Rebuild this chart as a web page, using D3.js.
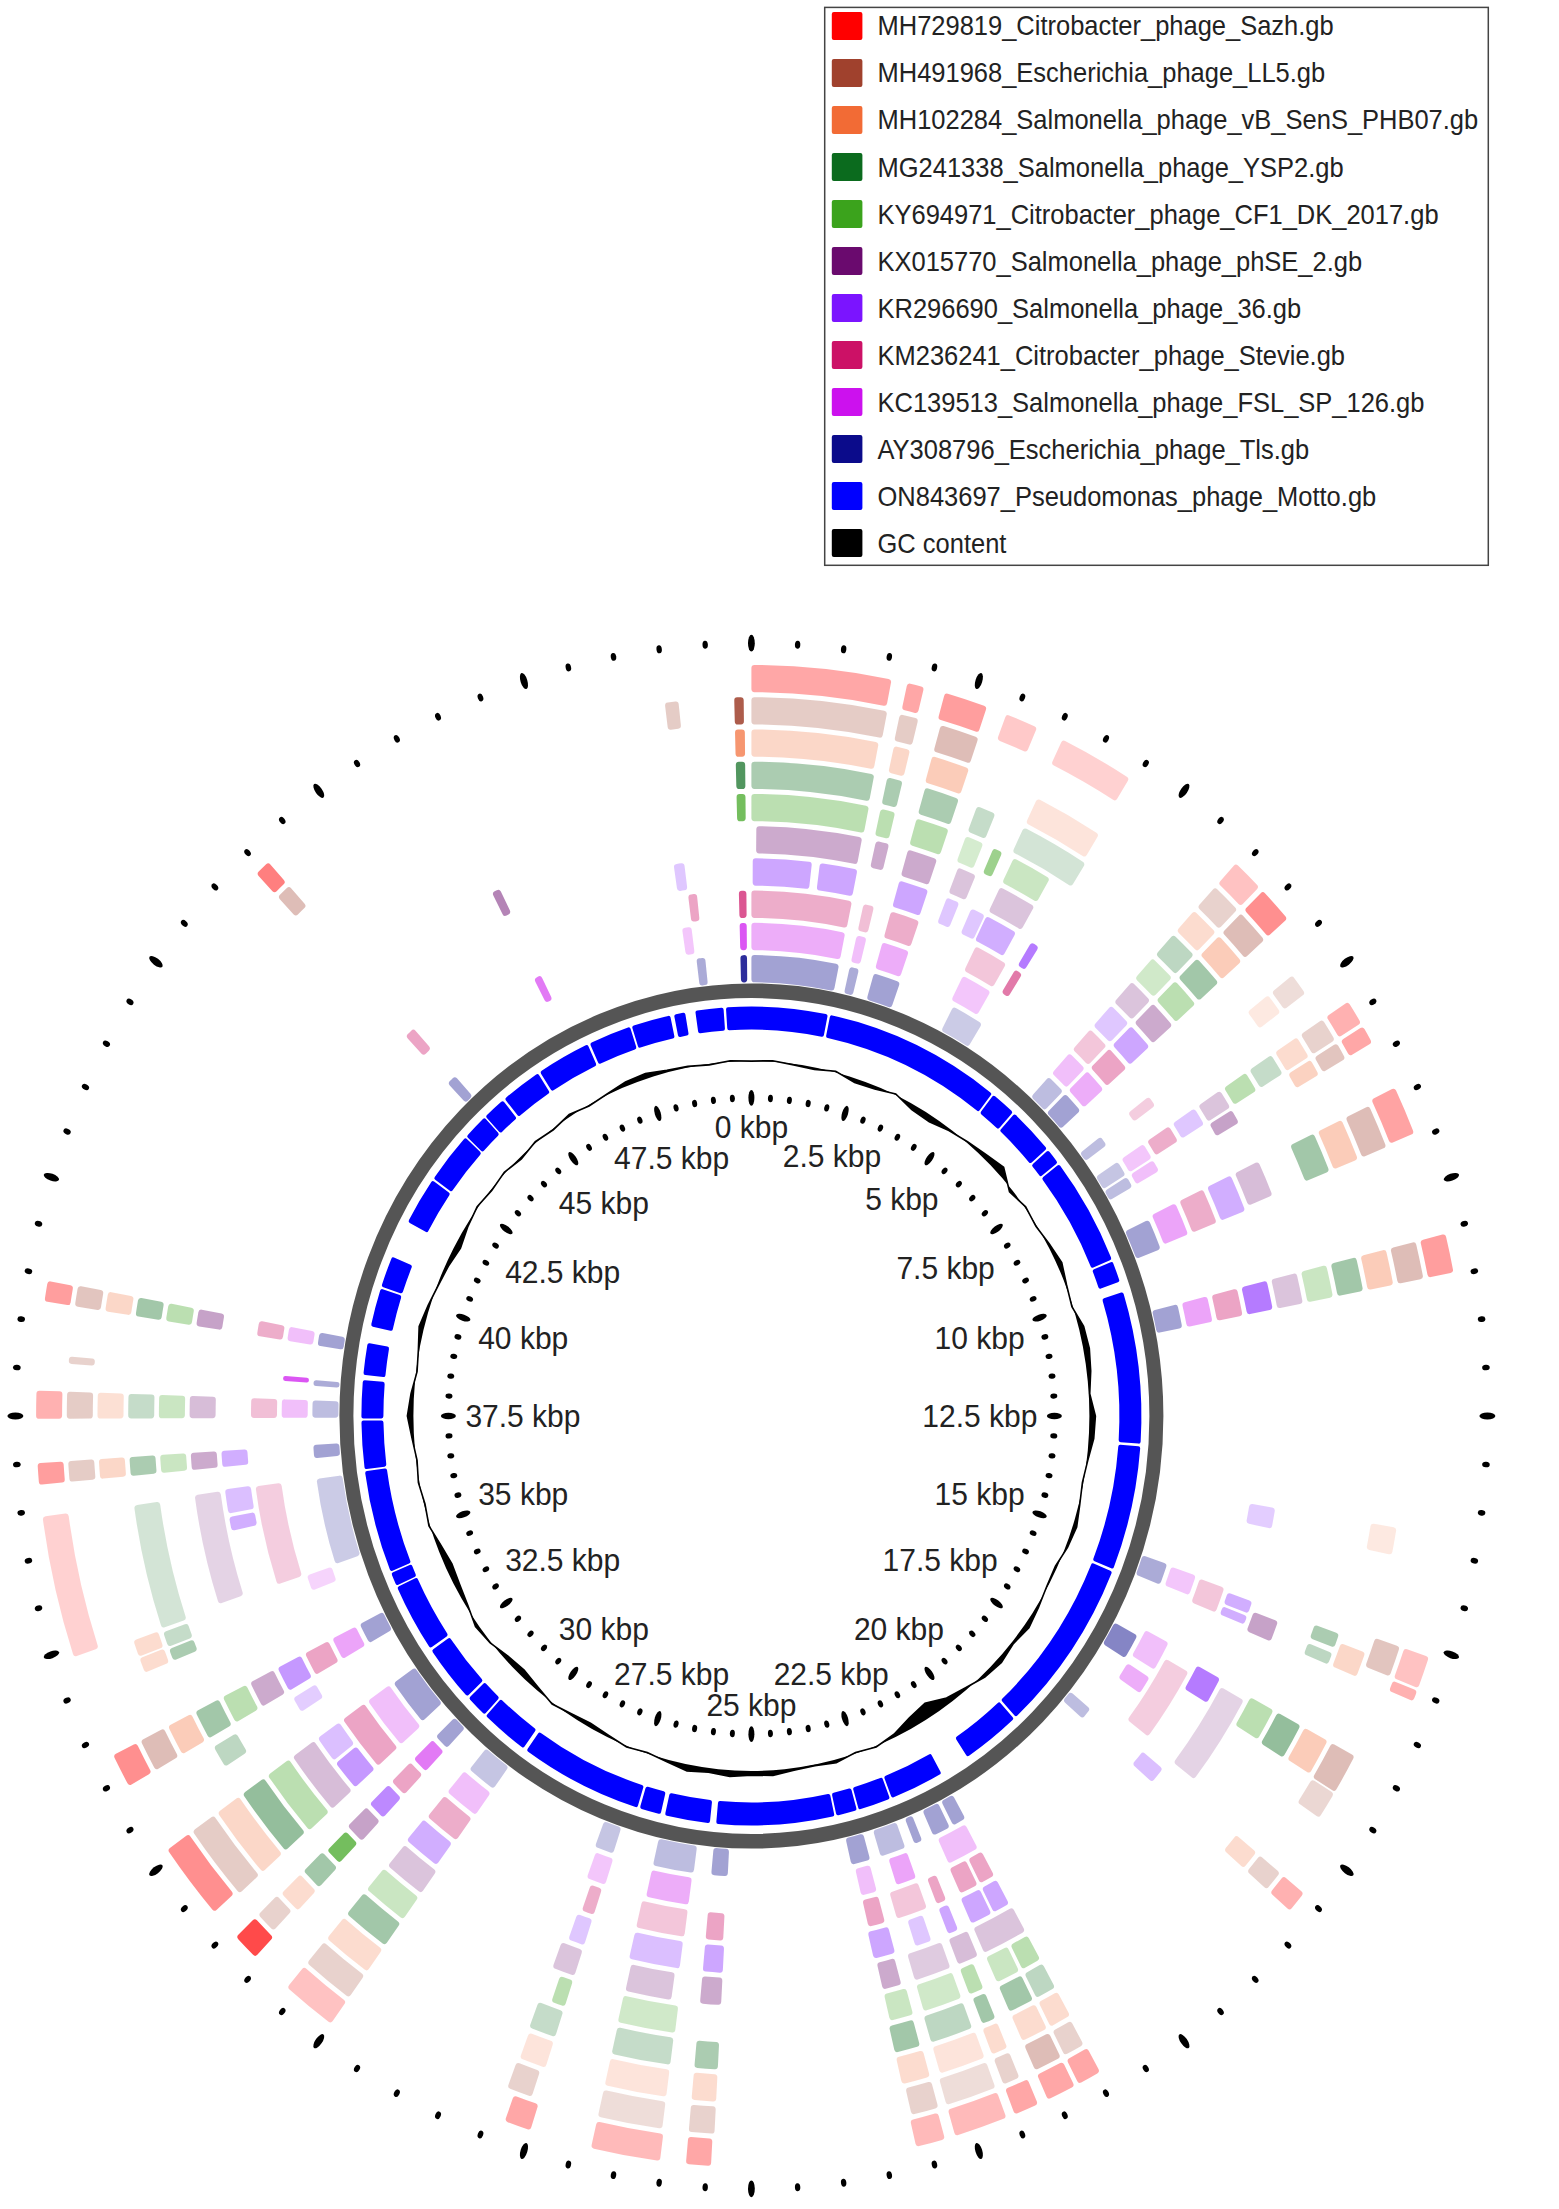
<!DOCTYPE html>
<html><head><meta charset="utf-8">
<script src="https://cdn.jsdelivr.net/npm/d3@7"></script>
<style>html,body{margin:0;padding:0;background:#fff}svg{display:block}</style>
</head><body>
<svg id="c" width="1559" height="2209"></svg>
<script>
// ---------------- DATA ----------------
const genomeLength = 50; // kbp
const legendLabels = ["MH729819_Citrobacter_phage_Sazh.gb","MH491968_Escherichia_phage_LL5.gb","MH102284_Salmonella_phage_vB_SenS_PHB07.gb","MG241338_Salmonella_phage_YSP2.gb","KY694971_Citrobacter_phage_CF1_DK_2017.gb","KX015770_Salmonella_phage_phSE_2.gb","KR296690_Salmonella_phage_36.gb","KM236241_Citrobacter_phage_Stevie.gb","KC139513_Salmonella_phage_FSL_SP_126.gb","AY308796_Escherichia_phage_Tls.gb","ON843697_Pseudomonas_phage_Motto.gb","GC content"];
const legendColors = ["#ff0000","#a0412d","#f26b35","#0b6b1e","#3ba31c","#6a0a6e","#7b14ff","#cc1166","#cc11ee","#0b0b8b","#0000ff","#000000"];
const tickLabels = ["0 kbp","2.5 kbp","5 kbp","7.5 kbp","10 kbp","12.5 kbp","15 kbp","17.5 kbp","20 kbp","22.5 kbp","25 kbp","27.5 kbp","30 kbp","32.5 kbp","35 kbp","37.5 kbp","40 kbp","42.5 kbp","45 kbp","47.5 kbp"];

// BLAST hit blocks per genome: [start kbp, end kbp, identity %]  (ring order: inner -> outer)
const AY308796 = [[49.8,49.92,98],[0,1.6,86],[1.8,1.97,84],[2.25,2.75,86],[3.8,4.4,76],[5.92,6.28,80],[6.34,6.74,86],[7.32,7.5,80],[7.85,8.12,78],[8.16,8.36,80],[9.0,9.55,86],[10.55,10.97,86],[15.1,15.48,84],[16.45,16.9,90],[17.98,18.2,80],[20.95,21.2,86],[21.27,21.6,86],[21.82,21.97,86],[22.15,22.62,80],[22.82,23.17,86],[25.43,25.73,86],[26.05,26.8,80],[27.55,27.9,78],[30.0,30.55,78],[31.1,31.38,86],[31.74,32.58,86],[33.4,33.77,86],[34.9,36.41,76],[36.77,37.0,86],[37.47,37.77,80],[38.02,38.12,84],[38.72,38.95,86],[43.92,44.1,86],[49.0,49.16,84]];
const KC139513 = [[49.8,49.92,95],[0,1.6,84],[1.8,1.97,80],[2.25,2.72,84],[3.72,4.25,78],[5.92,6.28,80],[6.34,6.74,84],[7.85,8.12,78],[8.16,8.36,80],[8.95,9.5,86],[10.55,10.97,86],[15.12,15.46,78],[16.3,16.8,80],[16.95,17.25,84],[21.0,21.55,80],[22.15,22.5,86],[22.85,23.12,80],[26.07,26.8,84],[27.52,27.85,78],[30.0,30.6,80],[31.1,31.38,92],[31.7,32.6,80],[33.4,33.77,86],[34.62,34.88,74],[37.47,37.77,80],[38.07,38.15,95],[38.72,38.95,80],[46.17,46.3,92],[48.82,48.98,78]];
const KM236241 = [[49.8,49.92,95],[0,1.61,84],[1.8,1.97,80],[2.25,2.72,84],[3.7,4.25,78],[4.42,4.55,92],[5.92,6.28,78],[6.34,6.74,86],[7.3,7.47,76],[7.85,8.12,84],[8.95,9.5,84],[10.55,10.97,86],[15.15,15.55,78],[16.55,17.72,76],[20.97,21.22,86],[21.27,21.57,86],[21.82,21.98,86],[22.15,22.65,78],[22.85,23.12,86],[25.45,25.73,86],[26.07,26.85,78],[27.55,27.75,84],[30.02,30.6,84],[31.1,31.38,86],[31.7,32.6,86],[33.4,33.77,86],[34.9,36.43,76],[37.47,37.77,80],[38.72,38.95,84],[43.93,44.1,86],[48.99,49.13,86]];
const KR296690 = [[0.02,0.91,86],[1.03,1.6,86],[2.25,2.7,86],[3.0,3.2,78],[3.4,3.62,78],[3.65,4.15,84],[4.42,4.55,92],[5.92,6.28,78],[6.34,6.74,86],[7.85,8.12,78],[8.95,9.5,84],[10.55,10.97,92],[13.82,14.12,76],[15.2,15.38,84],[15.42,15.55,84],[16.4,16.8,92],[17.95,18.2,80],[20.97,21.23,86],[21.27,21.6,86],[21.82,21.98,86],[22.25,22.5,78],[22.82,23.15,86],[25.43,25.73,86],[26.08,26.85,80],[27.55,27.8,78],[30.05,30.62,84],[31.1,31.38,90],[31.7,32.15,88],[32.2,32.6,80],[33.05,33.28,76],[33.4,33.77,88],[35.85,36.05,84],[36.1,36.45,80],[36.77,37.0,84],[48.83,48.99,78]];
const KX015770 = [[0.07,1.58,84],[1.78,1.97,84],[2.25,2.68,84],[3.0,3.27,78],[3.65,4.2,78],[5.92,6.28,78],[6.34,6.74,84],[7.85,8.12,78],[8.16,8.36,86],[8.95,9.45,80],[10.55,10.97,78],[15.33,15.62,86],[16.5,17.78,74],[20.95,21.6,78],[21.7,22.0,80],[22.12,22.65,76],[22.85,23.12,84],[25.43,25.73,84],[26.14,26.8,78],[27.55,27.88,78],[30.0,30.6,78],[31.1,31.38,86],[31.7,32.6,80],[33.4,33.77,84],[34.92,36.43,74],[36.77,37.0,84],[37.47,37.77,80],[38.72,38.95,86],[46.18,46.3,90]];
const KY694971 = [[49.8,49.92,95],[0,1.59,84],[1.75,1.95,84],[2.25,2.7,84],[2.95,3.2,76],[3.35,3.48,90],[3.65,4.2,80],[5.92,6.28,78],[6.34,6.74,84],[7.85,8.12,84],[10.55,10.97,80],[16.42,16.85,84],[20.95,21.22,84],[21.27,21.6,80],[21.8,22.0,84],[22.12,22.65,78],[22.8,23.12,80],[26.03,26.81,78],[27.55,27.74,84],[30.0,30.62,80],[31.12,31.35,95],[31.7,32.6,84],[33.4,33.77,84],[36.77,37.0,80],[37.47,37.77,80],[38.72,38.95,84]];
const MG241338 = [[49.8,49.92,95],[0,1.58,84],[1.75,1.95,84],[2.25,2.7,84],[2.95,3.2,78],[3.6,4.5,74],[5.92,6.28,80],[6.34,6.74,86],[7.85,8.12,78],[8.95,9.45,86],[10.55,10.97,86],[15.2,15.38,84],[15.45,15.6,80],[16.42,16.87,88],[20.95,21.22,80],[21.27,21.6,86],[21.8,21.98,86],[22.12,22.67,80],[22.82,23.15,86],[25.43,25.73,84],[26.04,26.8,78],[27.55,27.9,78],[30.0,30.62,86],[31.1,31.38,86],[31.72,32.6,88],[33.0,33.28,80],[33.4,33.77,86],[34.45,34.6,84],[34.63,34.82,78],[34.87,36.41,74],[36.77,37.0,84],[37.47,37.77,78],[38.72,38.95,86]];
const MH102284 = [[49.8,49.92,95],[0,1.56,80],[1.75,1.95,80],[2.23,2.7,84],[3.6,4.46,74],[5.92,6.28,78],[6.34,6.74,84],[7.25,7.5,72],[7.85,8.12,78],[8.16,8.36,82],[8.95,9.45,84],[10.55,10.97,84],[13.8,14.12,72],[15.3,15.6,80],[16.42,16.86,84],[17.98,18.22,78],[20.95,21.22,78],[21.27,21.6,78],[21.8,22.0,78],[22.1,22.67,74],[22.8,23.15,78],[25.43,25.73,78],[26.04,26.8,74],[27.55,27.88,74],[30.0,30.62,78],[31.1,31.38,78],[31.72,32.6,80],[33.4,33.77,84],[34.45,34.63,78],[34.65,34.85,78],[36.77,37.0,80],[37.47,37.77,76],[38.72,38.95,80]];
const MH491968 = [[49.8,49.91,98],[0,1.59,80],[1.74,1.96,80],[2.23,2.69,84],[5.92,6.28,78],[6.34,6.74,84],[7.25,7.5,74],[7.85,8.12,78],[8.16,8.36,82],[8.95,9.45,84],[10.55,10.97,84],[15.1,15.45,82],[16.42,16.88,84],[16.9,17.22,76],[17.98,18.22,78],[20.97,21.22,78],[21.27,21.6,84],[21.8,22.0,78],[22.1,22.7,74],[22.8,23.12,78],[25.43,25.73,78],[26.04,26.8,74],[27.6,27.9,78],[30.0,30.62,78],[31.15,31.4,78],[31.72,32.6,80],[33.4,33.77,84],[36.77,37.0,80],[37.47,37.77,80],[38.08,38.16,78],[38.72,38.95,82],[43.92,44.1,84],[48.99,49.15,80]];
const MH729819 = [[0,1.57,84],[1.75,1.94,84],[2.18,2.67,86],[2.9,3.27,76],[3.58,4.43,74],[5.92,6.28,78],[6.34,6.74,88],[7.85,8.12,82],[8.16,8.36,84],[8.9,9.43,85],[10.55,10.97,86],[15.1,15.45,78],[15.48,15.6,82],[17.98,18.22,82],[20.95,21.22,84],[21.27,21.6,84],[21.72,22.0,84],[22.1,22.7,80],[22.82,23.15,80],[25.45,25.73,84],[26.02,26.8,80],[27.5,27.8,84],[30.0,30.62,78],[31.1,31.4,95],[31.76,32.6,88],[33.4,33.77,88],[34.9,36.43,74],[36.77,37.0,86],[37.47,37.77,82],[38.72,38.94,86],[43.92,44.1,90]];

// Reference genome (ON843697 Motto) CDS blocks [start kbp, end kbp] (last one wraps past 0)
const mottoCDS = [[1.62,5.29],[5.33,5.85],[5.89,6.84],[6.88,7.19],[7.23,9.38],[9.42,9.84],[10.05,13.04],[13.09,15.55],[15.6,19.07],[19.12,20.33],[20.95,22.07],[22.11,22.78],[22.82,23.25],[23.29,25.72],[25.85,26.78],[26.87,27.31],[27.36,29.89],[29.97,30.96],[31.0,31.45],[31.5,32.65],[32.7,34.07],[34.1,34.37],[34.4,36.42],[36.46,37.41],[37.45,38.2],[38.3,38.93],[39.26,40.02],[40.06,40.68],[41.43,42.38],[42.42,43.45],[43.48,44.0],[44.03,44.5],[44.55,45.39],[45.44,46.55],[46.6,47.48],[47.52,48.33],[48.41,48.64],[48.85,49.43],[49.48,1.57]];

// GC content deviation, one value per 0.5 kbp window (px from the mean circle)
const gcDeviation = [0,1,-1,-2,1,-4,-3,1,-5,-6,-2,1,4,8,-3,1,-1,2,5,1,-1,5,6,4,1,6,5,1,-1,1,4,2,-2,-1,2,5,2,5,3,-2,-6,-14,-10,-3,1,-1,3,1,2,5,4,6,4,6,2,-1,1,-2,-4,-2,1,-3,-6,-4,1,3,-2,-5,-7,-4,1,-1,1,-1,2,6,3,-1,1,5,2,-1,-3,-6,-2,1,-1,1,-2,1,-1,2,-1,1,4,5,2,1,-1,1];

// ---------------- DRAW ----------------
const trackBlocks = [AY308796,KC139513,KM236241,KR296690,KX015770,KY694971,MG241338,MH102284,MH491968,MH729819];
const trackColors = legendColors.slice(0,10).reverse();

const cx = 751.4, cy = 1416, sy = 1.05;
const svg = d3.select("#c");
const g = svg.append("g").attr("transform", `translate(${cx},${cy}) scale(1,${sy})`);

const ang = d3.scaleLinear().domain([0, genomeLength]).range([0, 2*Math.PI]);
const endAng = d => ang(d[1] < d[0] ? d[1] + genomeLength : d[1]);
const ringR = d3.scaleLinear().domain([0, 9]).range([426, 702.3]);
const shade = d3.scaleLinear().domain([72,80,86,92,98]).range([0.15,0.27,0.38,0.56,0.86]).clamp(true);
const halfW = 13;

const arc = d3.arc().cornerRadius(3);

// comparison rings
trackBlocks.forEach((blocks, i) => {
  const r = ringR(i);
  g.append("g").selectAll("path").data(blocks).join("path")
    .attr("d", d => arc({innerRadius: r-halfW, outerRadius: r+halfW, startAngle: ang(d[0]), endAngle: endAng(d)}))
    .attr("fill", trackColors[i])
    .attr("fill-opacity", d => shade(d[2]));
});

// gray backbone ring
g.append("circle").attr("r", 405).attr("fill","none").attr("stroke","#555555").attr("stroke-width",14);

// reference CDS ring
const arcB = d3.arc().cornerRadius(2);
g.append("g").selectAll("path").data(mottoCDS).join("path")
  .attr("d", d => arcB({innerRadius: 368, outerRadius: 390, startAngle: ang(d[0]), endAngle: endAng(d)}))
  .attr("fill", legendColors[10]);

// GC content
const gcBase = 338;
const gcLine = d3.lineRadial().angle((d,i) => ang(i*genomeLength/gcDeviation.length)).radius(d => gcBase + d).curve(d3.curveLinearClosed);
const baseCircle = d3.arc()({innerRadius:0, outerRadius:gcBase, startAngle:0, endAngle:2*Math.PI});
g.append("path").attr("d", gcLine(gcDeviation) + baseCircle).attr("fill","#000").attr("fill-rule","evenodd");
g.append("path").attr("d", gcLine(gcDeviation)).attr("fill","none").attr("stroke","#000").attr("stroke-width",1.6);

// tick rings
const ticks = d3.range(0, genomeLength, 0.5);
function tickRing(r, majorRx, majorRy, minorRx, minorRy) {
  g.append("g").selectAll("ellipse").data(ticks).join("ellipse")
    .attr("transform", d => `rotate(${ang(d)*180/Math.PI}) translate(0,${-r})`)
    .attr("rx", (d,i) => i%5===0 ? majorRx : minorRx)
    .attr("ry", (d,i) => i%5===0 ? majorRy : minorRy)
    .attr("fill", "#000");
}
tickRing(303, 3, 7.5, 2.5, 3.5);
tickRing(736, 3.4, 8, 2.7, 3.8);

// tick labels
const labelPos = d3.range(0, genomeLength, 2.5);
const lbl = g.append("g").attr("font-family","Liberation Sans, Arial, sans-serif").attr("font-size",30).attr("fill","#222");
labelPos.forEach((p, i) => {
  const t = lbl.append("text").text(tickLabels[i]).attr("text-anchor","middle").attr("dy","0.35em");
  const w = t.node().getComputedTextLength(), h = 21, th = ang(p), r0 = 286;
  const d = r0 - (w/2*Math.abs(Math.sin(th)) + h/2*Math.abs(Math.cos(th)));
  t.attr("x", d*Math.sin(th)).attr("y", -d*Math.cos(th));
});

// legend
const lg = svg.append("g");
lg.append("rect").attr("x",824.7).attr("y",7.4).attr("width",663.6).attr("height",557.9)
  .attr("fill","#fff").attr("stroke","#444").attr("stroke-width",1.5);
const ly = d3.scaleLinear().domain([0, legendLabels.length-1]).range([25.9, 543.1]);
lg.selectAll("rect.sw").data(legendLabels).join("rect").attr("class","sw")
  .attr("x",831.8).attr("y",(d,i)=>ly(i)-14).attr("width",30.6).attr("height",28).attr("rx",2)
  .attr("fill",(d,i)=>legendColors[i]);
lg.selectAll("text").data(legendLabels).join("text")
  .attr("transform",(d,i)=>`translate(877.5,${ly(i)}) scale(1,1.07)`).attr("dy","0.35em")
  .attr("font-family","Liberation Sans, Arial, sans-serif").attr("font-size",25.5).attr("fill","#222")
  .text(d=>d);
</script>
</body></html>
